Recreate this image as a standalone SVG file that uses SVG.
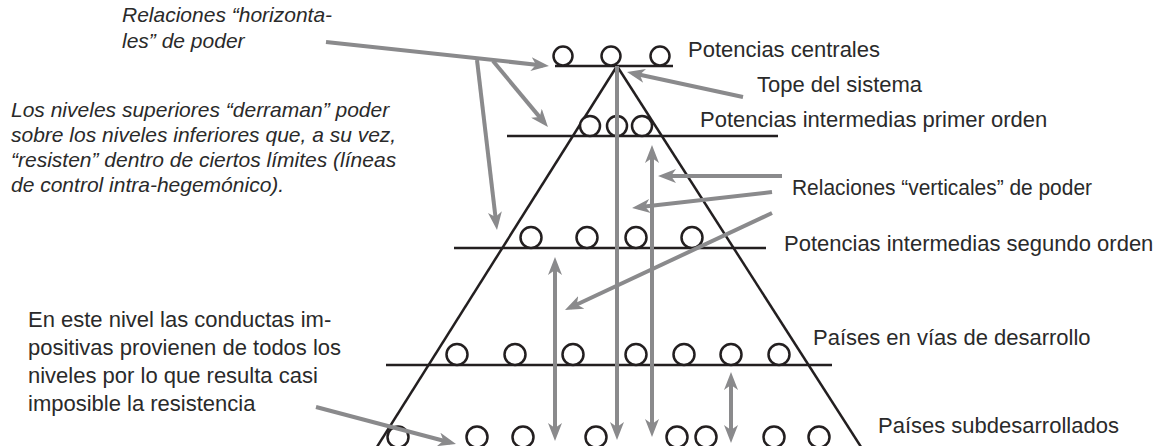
<svg xmlns="http://www.w3.org/2000/svg" width="1159" height="446" viewBox="0 0 1159 446">
<style>
.lbl{font-family:"Liberation Sans",Arial,sans-serif;font-size:22px;fill:#2a2a2a}
.it{font-family:"Liberation Sans",Arial,sans-serif;font-size:21px;font-style:italic;fill:#2a2a2a}
.blk{stroke:#231f20;stroke-width:2.5;fill:none}
.circ{stroke:#231f20;stroke-width:2.5;fill:#fff}
.arr{stroke:#8a8a8c;stroke-width:4;fill:none;marker-end:url(#ah)}
.dbl{stroke:#8a8a8c;stroke-width:4;fill:none;marker-end:url(#ah);marker-start:url(#ah)}
</style>
<defs>
<marker id="ah" viewBox="0 0 18 14" markerWidth="18" markerHeight="14" markerUnits="userSpaceOnUse" refX="12" refY="7" orient="auto-start-reverse">
<path d="M0,0 L18,7 L0,14 L5,7 Z" fill="#8a8a8c"/>
</marker>
</defs>
<rect width="1159" height="446" fill="#fff"/>

<g id="pyramid">
<line class="blk" x1="617" y1="66" x2="375" y2="450"/>
<line class="blk" x1="617" y1="66" x2="863" y2="450"/>
</g>

<g id="level1">
<line class="blk" x1="555" y1="66" x2="673" y2="66"/>
<circle class="circ" cx="563" cy="56" r="9.5"/>
<circle class="circ" cx="611" cy="56" r="9.5"/>
<circle class="circ" cx="660" cy="56" r="9.5"/>
<text class="lbl" x="688" y="57">Potencias centrales</text>
</g>

<g id="tope">
<text class="lbl" x="757" y="92">Tope del sistema</text>
</g>

<g id="level2">
<line class="blk" x1="507" y1="136" x2="778" y2="136"/>
<circle class="circ" cx="590" cy="126" r="10"/>
<circle class="circ" cx="617" cy="126" r="10"/>
<circle class="circ" cx="642" cy="126" r="10"/>
<text class="lbl" x="700" y="127">Potencias intermedias primer orden</text>
</g>

<g id="level3">
<line class="blk" x1="454" y1="248" x2="766" y2="248"/>
<circle class="circ" cx="531" cy="237.5" r="10.5"/>
<circle class="circ" cx="587" cy="237.5" r="10.5"/>
<circle class="circ" cx="636" cy="237.5" r="10.5"/>
<circle class="circ" cx="692" cy="237.5" r="10.5"/>
<text class="lbl" x="784" y="251">Potencias intermedias segundo orden</text>
</g>

<g id="level4">
<line class="blk" x1="386" y1="365" x2="832" y2="365"/>
<circle class="circ" cx="457" cy="354.5" r="10.5"/>
<circle class="circ" cx="515" cy="354.5" r="10.5"/>
<circle class="circ" cx="573" cy="354.5" r="10.5"/>
<circle class="circ" cx="636" cy="354.5" r="10.5"/>
<circle class="circ" cx="684" cy="354.5" r="10.5"/>
<circle class="circ" cx="731" cy="354.5" r="10.5"/>
<circle class="circ" cx="779" cy="354.5" r="10.5"/>
<text class="lbl" x="813" y="345">Países en vías de desarrollo</text>
</g>

<g id="level5">
<circle class="circ" cx="398" cy="437" r="10.5"/>
<circle class="circ" cx="477" cy="437" r="10.5"/>
<circle class="circ" cx="523" cy="437" r="10.5"/>
<circle class="circ" cx="596" cy="437" r="10.5"/>
<circle class="circ" cx="677" cy="437" r="10.5"/>
<circle class="circ" cx="706" cy="437" r="10.5"/>
<circle class="circ" cx="774" cy="437" r="10.5"/>
<circle class="circ" cx="819" cy="437" r="10.5"/>
<text class="lbl" x="878" y="433">Países subdesarrollados</text>
</g>

<g id="note-horizontales">
<text class="it" x="122" y="22">Relaciones “horizonta-</text>
<text class="it" x="122" y="48">les” de poder</text>
</g>

<g id="note-derraman">
<text class="it" x="11" y="117">Los niveles superiores “derraman” poder</text>
<text class="it" x="11" y="142">sobre los niveles inferiores que, a su vez,</text>
<text class="it" x="11" y="167">“resisten” dentro de ciertos límites (líneas</text>
<text class="it" x="11" y="192">de control intra-hegemónico).</text>
</g>

<g id="note-verticales">
<text class="lbl" x="792" y="195" textLength="300" lengthAdjust="spacingAndGlyphs">Relaciones “verticales” de poder</text>
</g>

<g id="note-resistencia">
<text class="lbl" x="28" y="327">En este nivel las conductas im-</text>
<text class="lbl" x="28" y="355">positivas provienen de todos los</text>
<text class="lbl" x="28" y="383">niveles por lo que resulta casi</text>
<text class="lbl" x="28" y="411">imposible la resistencia</text>
</g>

<g id="connectors">
<line class="arr" x1="326" y1="42" x2="543" y2="65.4"/>
<line class="arr" x1="493" y1="61" x2="544.1" y2="122.4"/>
<line class="arr" x1="477" y1="60" x2="496.3" y2="224"/>
<line class="arr" x1="743" y1="97" x2="632.9" y2="73.3"/>
<line class="arr" x1="782" y1="176" x2="664" y2="176"/>
<line class="arr" x1="772" y1="192" x2="638" y2="207.3"/>
<line class="arr" x1="772" y1="213" x2="570.4" y2="307.5"/>
<line class="arr" x1="316" y1="407" x2="450.2" y2="442.5"/>
<line class="arr" x1="617" y1="66" x2="617" y2="434"/>
<line class="dbl" x1="652" y1="151" x2="652" y2="431"/>
<line class="dbl" x1="555" y1="263" x2="555" y2="435"/>
<line class="dbl" x1="731" y1="378" x2="731" y2="437"/>
</g>
</svg>
